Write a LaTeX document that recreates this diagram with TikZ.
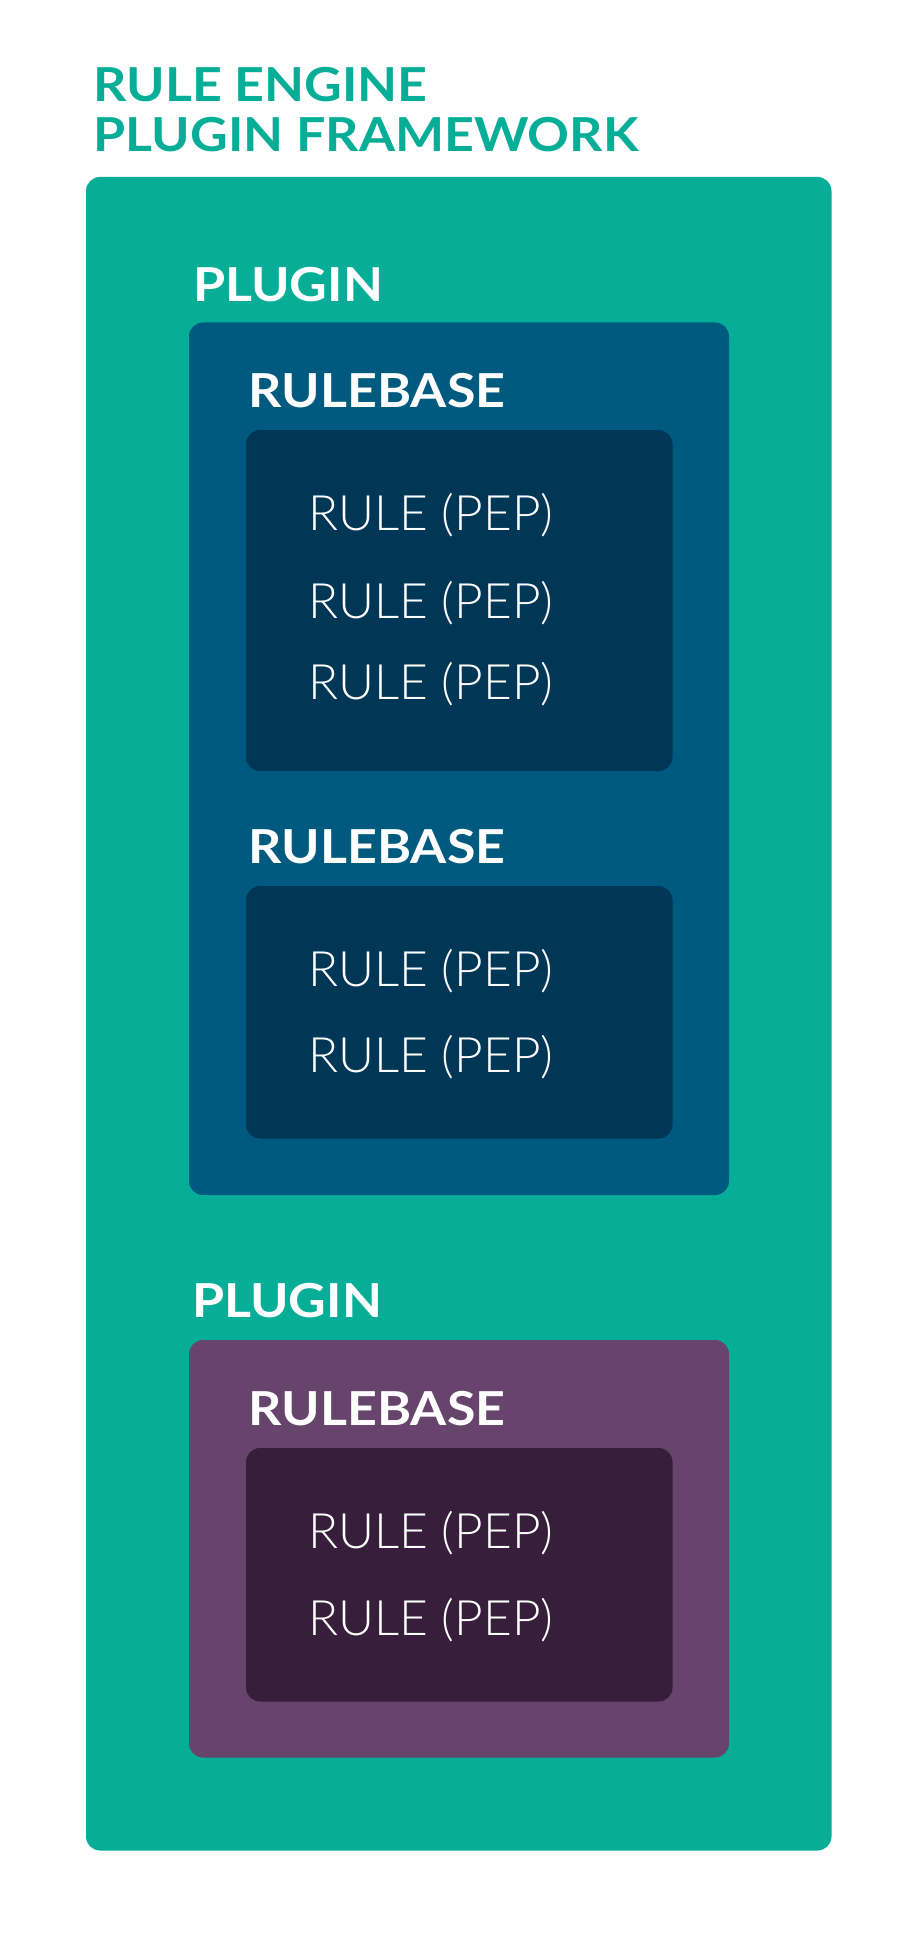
\documentclass[tikz,border=0pt]{standalone}
\usepackage{fontspec}
\setmainfont{Lato}
\newfontfamily\headfont{Lato}[UprightFont=* Bold, FakeStretch=1.11]
\newfontfamily\rulefont{Lato Light}[FakeStretch=1.015]
\definecolor{frameteal}{HTML}{06AE97}
\definecolor{pluginblue}{HTML}{005A80}
\definecolor{baseblue}{HTML}{003656}
\definecolor{pluginpurple}{HTML}{66446B}
\definecolor{basepurple}{HTML}{371E3A}
\tikzset{
  panel/.style={rounded corners=14pt, draw=none},
  headlabel/.style={anchor=base west, inner sep=0pt, text=white,
    font=\headfont\fontsize{46.8pt}{50pt}\selectfont},
  titlelabel/.style={headlabel, text=frameteal},
  rulelabel/.style={anchor=base west, inner sep=0pt, text=white,
    font=\rulefont\fontsize{48.8pt}{52pt}\selectfont},
}
\begin{document}
\begin{tikzpicture}[x=1pt, y=-1pt]
  \fill[white] (0,0) rectangle (919,1942);
  \useasboundingbox (0,0) rectangle (919,1942);

  % title
  \node[titlelabel] (title1) at (93.5,101.7) {RULE ENGINE};
  \node[titlelabel] (title2) at (93.5,151.7) {PLUGIN FRAMEWORK};

  % framework container
  \fill[panel, frameteal] (86,177) rectangle (831.5,1850.5);

  % first plugin
  \node[headlabel] (plugA) at (193,301.7) {PLUGIN};
  \fill[panel, pluginblue] (189,322.5) rectangle (729,1195);

  \node[headlabel] (baseA) at (248.5,407.3) {RULEBASE};
  \fill[panel, baseblue] (246,430) rectangle (672.5,771);
  \node[rulelabel] (ruleA1) at (308.5,530) {RULE (PEP)};
  \node[rulelabel] (ruleA2) at (308.5,618.3) {RULE (PEP)};
  \node[rulelabel] (ruleA3) at (308.5,699.3) {RULE (PEP)};

  \node[headlabel] (baseB) at (248.5,863.3) {RULEBASE};
  \fill[panel, baseblue] (246,886) rectangle (672.5,1138.5);
  \node[rulelabel] (ruleB1) at (308.5,986) {RULE (PEP)};
  \node[rulelabel] (ruleB2) at (308.5,1072.7) {RULE (PEP)};

  % second plugin
  \node[headlabel] (plugB) at (192,1317.7) {PLUGIN};
  \fill[panel, pluginpurple] (189,1340) rectangle (729,1757.5);

  \node[headlabel] (baseC) at (248.5,1425) {RULEBASE};
  \fill[panel, basepurple] (246,1448) rectangle (672.5,1701.5);
  \node[rulelabel] (ruleC1) at (308.5,1548.3) {RULE (PEP)};
  \node[rulelabel] (ruleC2) at (308.5,1635.7) {RULE (PEP)};
\end{tikzpicture}
\end{document}
